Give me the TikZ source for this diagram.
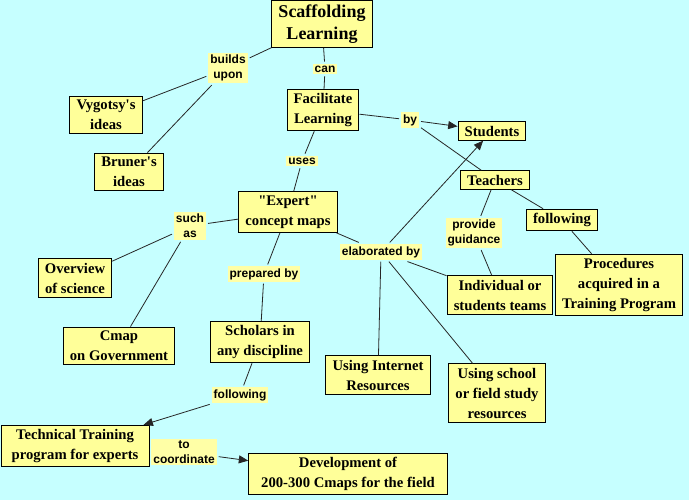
\documentclass[tikz,border=0pt]{standalone}
\usepackage{fontspec}
\setmainfont{Liberation Serif}[Ligatures=TeXOff]
\newfontfamily\lnkfont{Liberation Sans}
\usepackage{xcolor}
\usepackage{tikz}
\usetikzlibrary{arrows.meta}
\definecolor{mapcyan}{HTML}{C6FFFF}
\definecolor{mapyellow}{HTML}{FFFF99}
\definecolor{lnkyellow}{HTML}{FFFFA6}

\begin{document}
\begin{tikzpicture}[
    x=0.75pt, y=-0.75pt,
    cmap/.style={rectangle, draw=black, line width=0.75pt, fill=mapyellow, align=center,
        inner xsep=5pt, inner ysep=3pt, font=\fontsize{11}{15}\selectfont\bfseries},
    bigcmap/.style={cmap, font=\fontsize{13.5}{16.5}\selectfont\bfseries},
    lnk/.style={rectangle, fill=lnkyellow, align=center, inner sep=1.5pt, outer sep=1.5pt,
        font=\lnkfont\fontsize{9}{11.25}\selectfont\bfseries},
    edge/.style={draw=black!85, line width=0.6pt},
    aedge/.style={edge, -{Triangle[length=7pt, width=6pt]}}
]
\useasboundingbox (0,0) rectangle (689,500);
\fill[mapcyan] (0,0) rectangle (689,500);

% concepts and linking words
\node[bigcmap] (scaf) at (322,24) {Scaffolding\\Learning};
\node[lnk] (builds) at (228,68) {builds\\upon};
\node[lnk] (can) at (325,69) {can};
\node[cmap] (facil) at (323,110) {Facilitate\\Learning};
\node[cmap] (vyg) at (106,115) {Vygotsy's\\ideas};
\node[cmap] (brun) at (129,172) {Bruner's\\ideas};
\node[lnk] (by) at (410,120) {by};
\node[cmap] (stud) at (492,131) {Students};
\node[lnk] (uses) at (302,161) {uses};
\node[cmap] (expert) at (288,212) {"Expert"\\concept maps};
\node[lnk] (such) at (190,226) {such\\as};
\node[cmap] (teach) at (495,180) {Teachers};
\node[cmap] (follow) at (562,220) {following};
\node[lnk] (guid) at (474,233) {provide\\guidance};
\node[lnk] (elab) at (381,252) {elaborated by};
\node[cmap] (overv) at (75,278) {Overview\\of science};
\node[lnk] (prep) at (264,274) {prepared by};
\node[cmap] (indiv) at (500,295) {Individual or\\students teams};
\node[cmap] (proc) at (619,285) {Procedures\\acquired in a\\Training Program};
\node[cmap] (gov) at (119,346) {Cmap\\on Government};
\node[cmap] (schol) at (260,342) {Scholars in\\any discipline};
\node[cmap] (inet) at (378,375) {Using Internet\\Resources};
\node[cmap] (school) at (497,393) {Using school\\or field study\\resources};
\node[lnk] (follow2) at (240,395) {following};
\node[cmap, minimum width=111pt] (tech) at (75,446) {Technical Training\\program for experts};
\node[lnk] (coord) at (184,452) {to\\coordinate};
\node[cmap, minimum width=149pt] (dev) at (348,474) {Development of\\200-300 Cmaps for the field};

% links
\draw[edge] (scaf) -- (builds);
\draw[edge] (builds) -- (vyg);
\draw[edge] (builds) -- (brun);
\draw[edge] (scaf) -- (can);
\draw[edge] (can) -- (facil);
\draw[edge] (facil) -- (by);
\draw[aedge] (by) -- (stud);
\draw[edge] (by) -- (teach);
\draw[edge] (facil) -- (uses);
\draw[edge] (uses) -- (expert);
\draw[edge] (expert) -- (such);
\draw[edge] (such) -- (overv);
\draw[edge] (such) -- (gov);
\draw[edge] (expert) -- (prep);
\draw[edge] (prep) -- (schol);
\draw[edge] (expert) -- (elab);
\draw[aedge] (elab) -- (stud);
\draw[edge] (elab) -- (indiv);
\draw[edge] (elab) -- (inet);
\draw[edge] (elab) -- (school);
\draw[edge] (teach) -- (guid);
\draw[edge] (guid) -- (indiv);
\draw[edge] (teach) -- (follow);
\draw[edge] (follow) -- (proc);
\draw[edge] (schol) -- (follow2);
\draw[aedge] (follow2) -- (tech);
\draw[edge] (tech) -- (coord);
\draw[aedge] (coord) -- (dev);
\end{tikzpicture}
\end{document}
